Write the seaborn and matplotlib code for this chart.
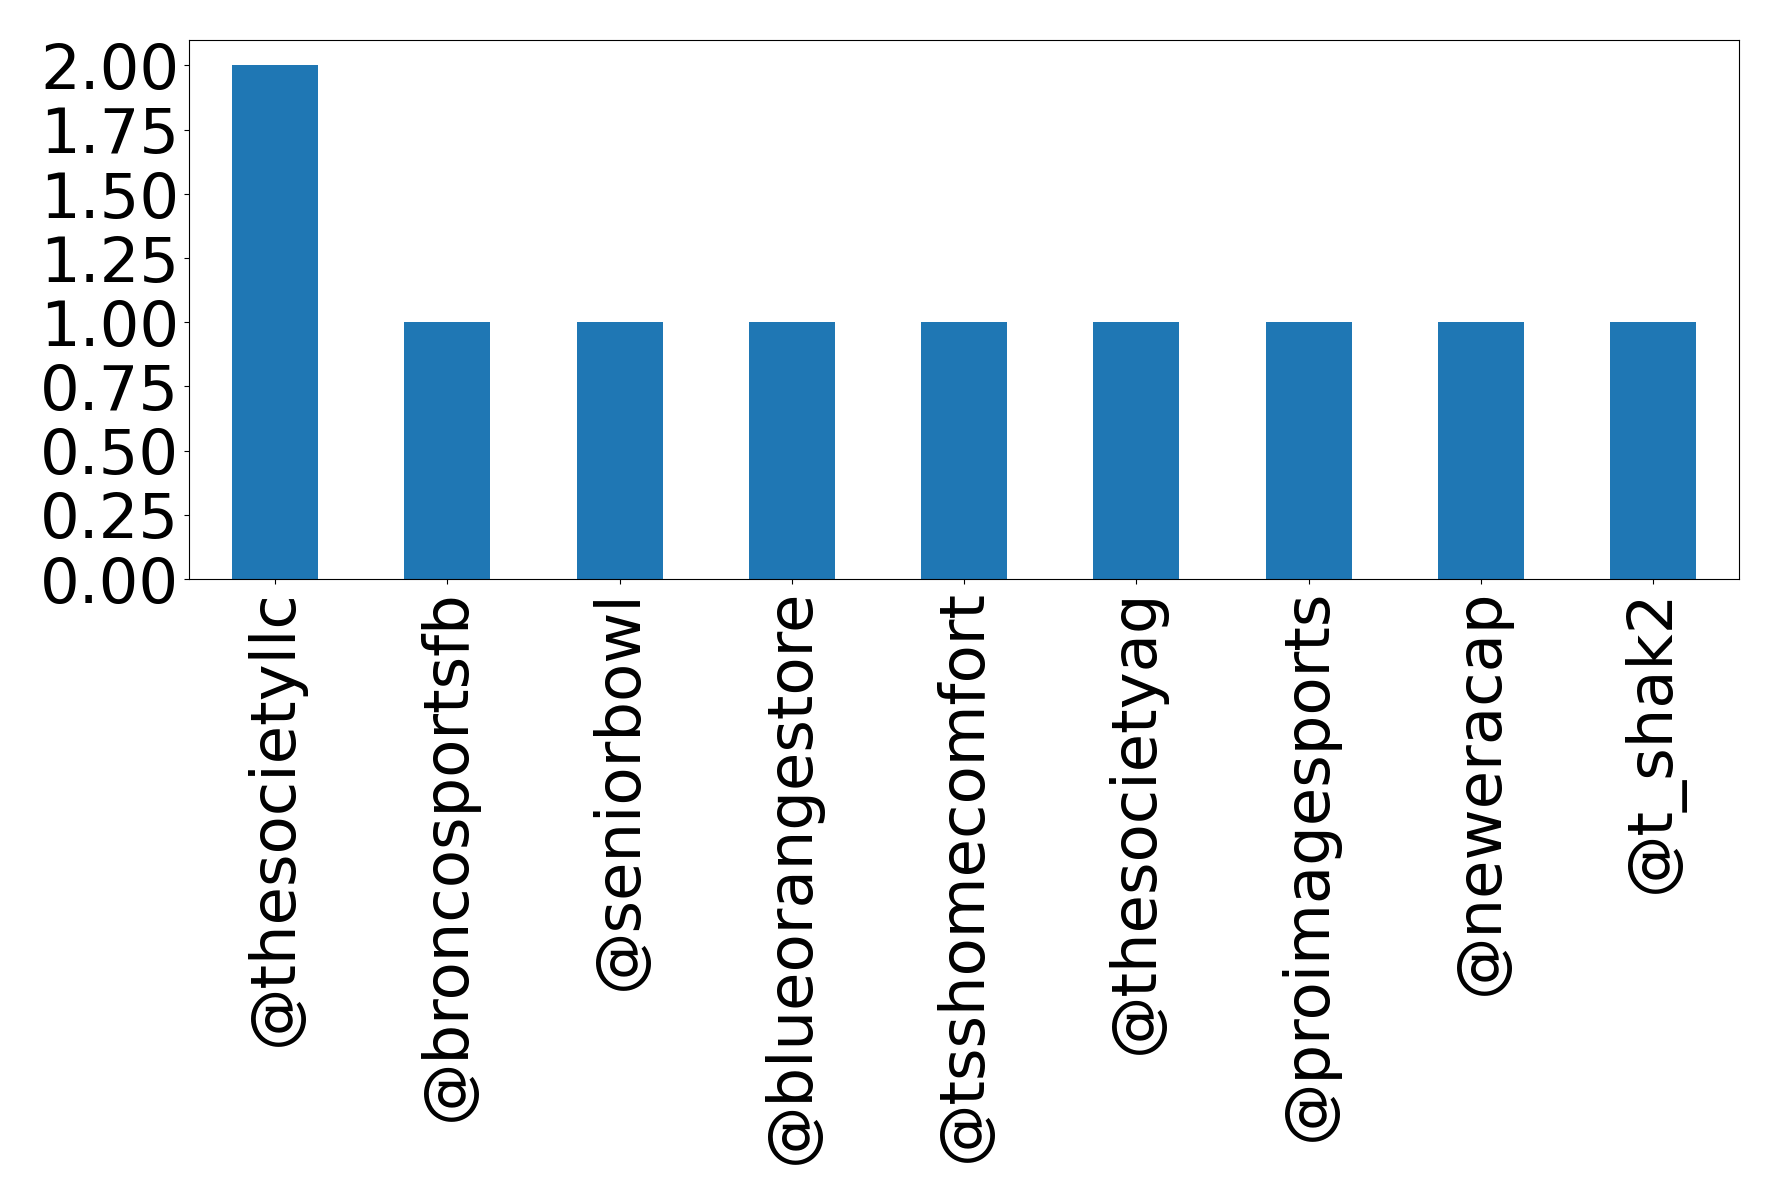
import pandas as pd
import seaborn as sns
import matplotlib
matplotlib.use("Agg")
import matplotlib.pyplot as plt

# mention counts per account
accounts = ["@thesocietyllc", "@broncosportsfb", "@seniorbowl", "@blueorangestore",
            "@tsshomecomfort", "@thesocietyag", "@proimagesports", "@neweracap", "@t_shak2"]
counts = [2, 1, 1, 1, 1, 1, 1, 1, 1]

df = pd.DataFrame({"account": accounts, "count": counts})

fig, ax = plt.subplots(figsize=(17.782, 12.042), dpi=100)
fig.subplots_adjust(left=189/1778, right=1739/1778, top=1-40/1204, bottom=1-579/1204)

sns.barplot(x="account", y="count", data=df, color="#1f77b4", saturation=1,
            width=0.5, ax=ax)
ax.set_xlim(-0.5, len(accounts) - 0.5)
ax.set_ylim(0, 2.1)
ax.set_yticks([0, 0.25, 0.5, 0.75, 1.0, 1.25, 1.5, 1.75, 2.0])
ax.set_yticklabels(["%.2f" % v for v in ax.get_yticks()])
ax.set_xlabel("")
ax.set_ylabel("")
ax.tick_params(axis="both", labelsize=45)
plt.setp(ax.get_xticklabels(), rotation=90)

fig.savefig("out.png", dpi=100)
